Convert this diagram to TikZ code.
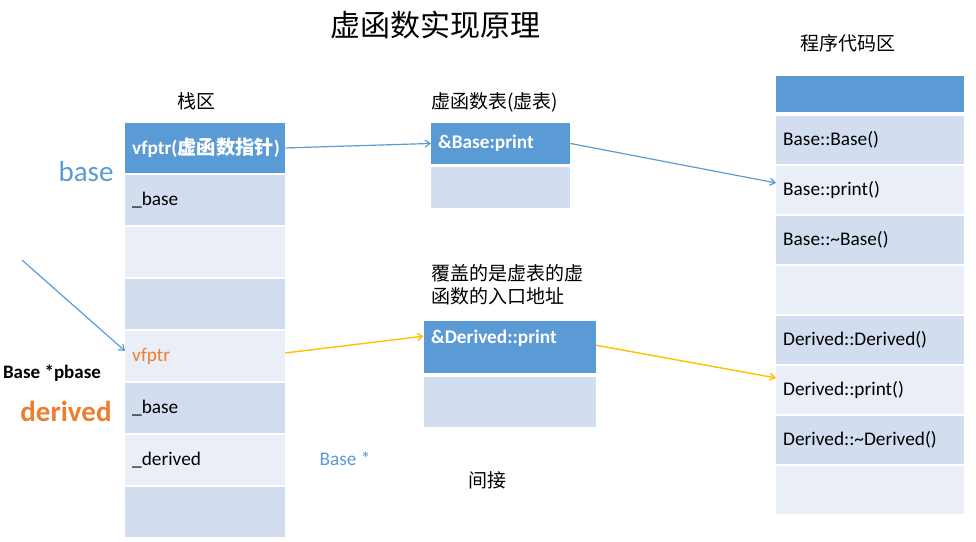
\documentclass[tikz,border=0pt]{standalone}
\usepackage{fontspec}
\setmainfont{Carlito}
\newfontfamily\cjk{Noto Sans CJK SC}
\usetikzlibrary{arrows.meta}
\definecolor{dkblue}{HTML}{5B9BD5}
\definecolor{bandA}{HTML}{D2DEEF}
\definecolor{bandB}{HTML}{EAEFF7}
\definecolor{orng}{HTML}{ED7D31}
\definecolor{gold}{HTML}{FFC000}
\begin{document}
\begin{tikzpicture}[x=1pt,y=-1pt,
  cell/.style={rectangle,draw=none,inner xsep=7pt,inner ysep=0pt,anchor=north west,align=left,font=\fontsize{19.3}{21}\selectfont},
  hdr/.style={cell,fill=dkblue,text=white,font=\fontsize{19.3}{21}\selectfont\bfseries},
  ca/.style={cell,fill=bandA},
  cb/.style={cell,fill=bandB},
  lbl/.style={inner sep=0pt,font=\fontsize{19}{23}\selectfont\cjk},
  barrow/.style={draw=dkblue,line width=1.2pt,-{Straight Barb[length=5pt,width=7pt]}},
  oarrow/.style={draw=gold,line width=1.4pt,-{Straight Barb[length=5pt,width=7pt]}},
]
\useasboundingbox (0,0) rectangle (976,541);
% title
\node[lbl,font=\fontsize{30}{34}\selectfont\cjk] (title) at (435,25) {虚函数实现原理};
% stack
\node[lbl] (stk) at (196,101) {栈区};
\tikzset{sw/.style={minimum width=160pt,text width=146pt,minimum height=49.5pt}}
\node[hdr,sw] (s1) at (125,123) {vfptr({\cjk 虚函数指针})};
\node[ca,sw] (s2) at (125,175) {\_base};
\node[cb,sw] (s3) at (125,227) {};
\node[ca,sw] (s4) at (125,279) {};
\node[cb,sw,text=orng] (s5) at (125,331) {vfptr};
\node[ca,sw] (s6) at (125,383) {\_base};
\node[cb,sw] (s7) at (125,435) {\_derived};
\node[ca,sw] (s8) at (125,487) {};
% left labels
\node[inner sep=0pt,text=dkblue,font=\fontsize{29}{33}\selectfont] (lbase) at (86,172) {base};
\node[inner sep=0pt,font=\fontsize{19}{23}\selectfont\bfseries] (lpb) at (52,373) {Base *pbase};
\node[inner sep=0pt,text=orng,font=\fontsize{29}{33}\selectfont\bfseries] (lder) at (66,411) {derived};
\node[inner sep=0pt,text=dkblue,font=\fontsize{19.3}{21}\selectfont] (lbs) at (345,459) {Base *};
% vtable 1
\node[lbl,anchor=west] (vt1) at (431,102) {虚函数表(虚表)};
\tikzset{vw/.style={minimum width=139pt,text width=125pt,minimum height=40.5pt}}
\node[hdr,vw] (v1) at (431,123) {\&Base:print};
\node[ca,vw] (v1b) at (431,167) {};
% vtable 2
\node[lbl,anchor=north west,align=left] (cov) at (431,264) {覆盖的是虚表的虚\\函数的入口地址};
\tikzset{vv/.style={minimum width=172pt,text width=158pt,minimum height=52pt}}
\node[hdr,vv] (v2) at (423.5,321) {};
\node[inner sep=0pt,anchor=base west,text=white,font=\fontsize{19.3}{21}\selectfont\bfseries] (v2t) at (431,343) {\&Derived::print};
\node[ca,vv,minimum height=50pt] (v2b) at (423.5,377) {};
\node[lbl] (ind) at (487,480) {间接};
% code area
\node[lbl] (code) at (848,43) {程序代码区};
\tikzset{cw/.style={minimum width=187.5pt,text width=173.5pt,minimum height=47.5pt}}
\node[hdr,cw,minimum height=36pt] (c1) at (776,76) {};
\node[ca,cw] (c2) at (776,116) {Base::Base()};
\node[cb,cw] (c3) at (776,166) {Base::print()};
\node[ca,cw] (c4) at (776,216) {Base::\textasciitilde Base()};
\node[cb,cw] (c5) at (776,266) {};
\node[ca,cw] (c6) at (776,316) {Derived::Derived()};
\node[cb,cw] (c7) at (776,366) {Derived::print()};
\node[ca,cw] (c8) at (776,416) {Derived::\textasciitilde Derived()};
\node[cb,cw] (c9) at (776,466) {};
% arrows
\coordinate (p0) at (22,260);
\draw[barrow] (s1.east) -- (v1.west);
\draw[barrow] (v1.east) -- ([yshift=7pt]c3.west);
\draw[barrow] (p0) -- ([yshift=5pt]s5.west);
\draw[oarrow] ([yshift=3pt]s5.east) -- ([yshift=11pt]v2.west);
\draw[oarrow] ([yshift=2pt]v2.east) -- ([yshift=12pt]c7.west);
\end{tikzpicture}
\end{document}
